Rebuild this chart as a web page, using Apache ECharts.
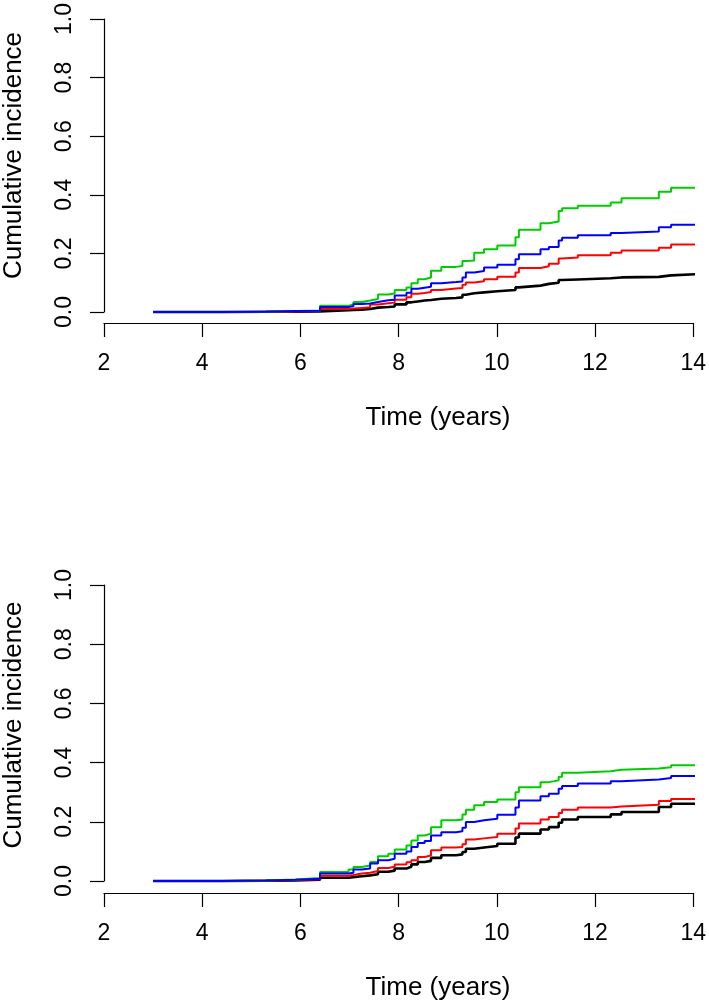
<!DOCTYPE html>
<html>
<head>
<meta charset="utf-8">
<script src="https://cdn.jsdelivr.net/npm/echarts@6/dist/echarts.min.js"></script>
<style>
html,body{margin:0;padding:0;background:#fff;}
#c{width:709px;height:1001px;}
</style>
</head>
<body>
<div id="c"></div>
<script>
// Common event times (years)
const times = [3, 4.4, 5.3, 5.9, 6.40, 6.98, 7.08, 7.25, 7.42, 7.58, 7.79, 7.92, 8.16, 8.26, 8.39, 8.53, 8.66, 8.87, 9.17, 9.30, 9.37, 9.54, 9.74, 10.01, 10.38, 10.45, 10.89, 11.06, 11.26, 11.33, 11.65, 12.32, 12.54, 13.30, 13.55, 14.06];

// Top panel
const topBlack = [0, 0.001, 0.001, 0.002, 0.006, 0.007, 0.008, 0.010, 0.015, 0.017, 0.019, 0.026, 0.033, 0.036, 0.039, 0.041, 0.045, 0.048, 0.050, 0.059, 0.064, 0.067, 0.071, 0.075, 0.084, 0.090, 0.096, 0.100, 0.109, 0.111, 0.115, 0.118, 0.120, 0.125, 0.129, 0.129];
const topRed   = [0, 0.001, 0.002, 0.003, 0.010, 0.012, 0.014, 0.016, 0.026, 0.030, 0.032, 0.042, 0.050, 0.062, 0.065, 0.068, 0.075, 0.080, 0.082, 0.093, 0.101, 0.105, 0.112, 0.120, 0.135, 0.150, 0.156, 0.165, 0.183, 0.186, 0.194, 0.202, 0.210, 0.219, 0.230, 0.230];
const topGreen = [0, 0.001, 0.003, 0.005, 0.021, 0.027, 0.034, 0.039, 0.044, 0.060, 0.063, 0.075, 0.084, 0.098, 0.112, 0.118, 0.141, 0.154, 0.157, 0.174, 0.176, 0.202, 0.214, 0.227, 0.255, 0.281, 0.303, 0.309, 0.345, 0.354, 0.363, 0.374, 0.388, 0.410, 0.424, 0.424];
const topBlue  = [0, 0.001, 0.003, 0.004, 0.017, 0.020, 0.027, 0.029, 0.034, 0.040, 0.042, 0.056, 0.066, 0.079, 0.083, 0.086, 0.098, 0.102, 0.104, 0.118, 0.135, 0.140, 0.152, 0.161, 0.180, 0.197, 0.214, 0.222, 0.244, 0.253, 0.262, 0.270, 0.275, 0.289, 0.298, 0.298];

// Bottom panel
const botBlack = [0, 0.001, 0.002, 0.004, 0.011, 0.013, 0.016, 0.019, 0.023, 0.031, 0.035, 0.042, 0.048, 0.056, 0.064, 0.068, 0.078, 0.087, 0.090, 0.098, 0.109, 0.113, 0.118, 0.126, 0.147, 0.160, 0.174, 0.182, 0.197, 0.208, 0.216, 0.225, 0.233, 0.250, 0.261, 0.261];
const botRed   = [0, 0.002, 0.003, 0.006, 0.018, 0.020, 0.025, 0.028, 0.034, 0.044, 0.048, 0.056, 0.063, 0.070, 0.081, 0.086, 0.104, 0.113, 0.115, 0.124, 0.140, 0.144, 0.149, 0.160, 0.177, 0.194, 0.208, 0.216, 0.230, 0.241, 0.248, 0.252, 0.258, 0.270, 0.277, 0.277];
const botGreen = [0, 0.002, 0.005, 0.010, 0.030, 0.039, 0.047, 0.052, 0.064, 0.084, 0.092, 0.106, 0.120, 0.137, 0.154, 0.160, 0.182, 0.205, 0.208, 0.225, 0.241, 0.256, 0.267, 0.275, 0.300, 0.317, 0.334, 0.340, 0.352, 0.366, 0.371, 0.376, 0.380, 0.384, 0.391, 0.391];
const botBlue  = [0, 0.002, 0.004, 0.008, 0.025, 0.028, 0.039, 0.042, 0.059, 0.070, 0.075, 0.092, 0.100, 0.115, 0.128, 0.135, 0.154, 0.165, 0.168, 0.180, 0.199, 0.205, 0.210, 0.224, 0.248, 0.272, 0.286, 0.295, 0.312, 0.321, 0.329, 0.337, 0.343, 0.348, 0.355, 0.355];

const xTicks = [2, 4, 6, 8, 10, 12, 14];
const yTicks = [0.0, 0.2, 0.4, 0.6, 0.8, 1.0];
const xTitle = 'Time (years)';
const yTitle = 'Cumulative incidence';

const FONT = '"Liberation Sans", Arial, sans-serif';
const TICKFS = 23;
const TITLEFS = 26;

function pairs(vals) { return times.map((t, i) => [t, vals[i]]); }

const panels = [
  { top: 15, height: 297, offset: 11, curves: [topBlack, topRed, topGreen, topBlue] },
  { top: 585, height: 296, offset: 12, curves: [botBlack, botRed, botGreen, botBlue] }
];
const colors = ['#000000', '#FF0000', '#00CD00', '#0000FF'];
const widths = [2.6, 2, 2, 2];

const grid = [], xAxis = [], yAxis = [], series = [], graphic = [];
panels.forEach((p, gi) => {
  grid.push({ left: 104, right: 12, top: p.top, height: p.height, containLabel: false });
  xAxis.push({
    type: 'value', gridIndex: gi, min: 2, max: 14, interval: 2,
    offset: p.offset,
    axisLine: { show: true, onZero: false, lineStyle: { color: '#000', width: 1.2 } },
    axisTick: { show: true, length: 14, inside: false, lineStyle: { color: '#000', width: 1.2 } },
    axisLabel: { show: true, margin: 29, color: '#000', fontSize: TICKFS, fontFamily: FONT,
      showMinLabel: true, showMaxLabel: true,
      formatter: v => xTicks.includes(v) ? String(v) : '' },
    splitLine: { show: false }
  });
  yAxis.push({
    type: 'value', gridIndex: gi, min: 0, max: 1, interval: 0.2,
    axisLine: { show: true, lineStyle: { color: '#000', width: 1.2 } },
    axisTick: { show: true, length: 14, lineStyle: { color: '#000', width: 1.2 } },
    axisLabel: { show: true, rotate: 90, margin: 28, color: '#000', fontSize: TICKFS, fontFamily: FONT,
      showMinLabel: true, showMaxLabel: true,
      formatter: v => yTicks.some(t => Math.abs(t - v) < 1e-9) ? v.toFixed(1) : '' },
    splitLine: { show: false }
  });
  p.curves.forEach((vals, ci) => {
    series.push({
      type: 'line', xAxisIndex: gi, yAxisIndex: gi, step: 'end',
      data: pairs(vals), showSymbol: false, symbol: 'none', clip: false,
      lineStyle: { color: colors[ci], width: widths[ci] }, silent: true, animation: false
    });
  });
  const midY = p.top + p.height / 2;
  graphic.push({
    type: 'text', x: 438, y: p.top + p.height + p.offset + 95,
    style: { text: xTitle, font: TITLEFS + 'px ' + FONT, fill: '#000', textAlign: 'center', textVerticalAlign: 'middle' }
  });
  graphic.push({
    type: 'text', x: 14, y: midY - 8, rotation: Math.PI / 2,
    style: { text: yTitle, font: TITLEFS + 'px ' + FONT, fill: '#000', textAlign: 'center', textVerticalAlign: 'middle' }
  });
});

const chart = echarts.init(document.getElementById('c'), null, { renderer: 'canvas' });
chart.setOption({ backgroundColor: '#ffffff', animation: false, grid, xAxis, yAxis, series, graphic });
</script>
</body>
</html>
